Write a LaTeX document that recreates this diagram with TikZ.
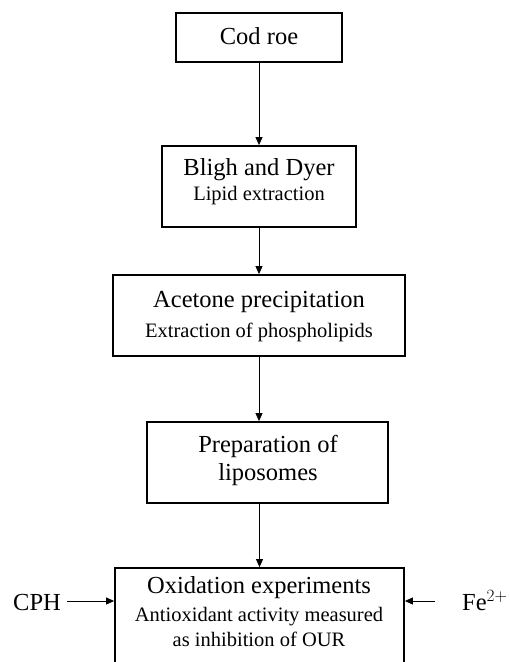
\documentclass[tikz,border=0pt]{standalone}
\usepackage{fontspec}
\setmainfont{Liberation Serif}
\usetikzlibrary{arrows.meta}
\tikzset{
  box/.style={draw, line width=1.8bp, minimum width=#1, inner sep=0pt},
  ttl/.style={anchor=base, inner sep=0pt, font=\fontsize{24.5bp}{28bp}\selectfont},
  sub/.style={anchor=base, inner sep=0pt, font=\fontsize{20.5bp}{24bp}\selectfont},
  flow/.style={line width=0.8bp, -{Triangle[length=8bp,width=7bp]}}
}
\begin{document}
\begin{tikzpicture}[x=1bp,y=-1bp]
\useasboundingbox (0,0) rectangle (510,662);
\clip (0,0) rectangle (510,662);
% boxes
\node[box=166bp, minimum height=49bp] (cod) at (259,37.5) {};
\node[box=194bp, minimum height=81bp] (bligh) at (259,186.5) {};
\node[box=292bp, minimum height=81bp] (acet) at (259,315.5) {};
\node[box=241bp, minimum height=81bp] (prep) at (267.5,462.5) {};
\node[box=289bp, minimum height=144bp] (oxid) at (259.5,640) {};
% texts
\node[ttl] (t1) at (259,45) {Cod roe};
\node[ttl] (t2) at (259,175) {Bligh and Dyer};
\node[sub] (s2) at (259,200) {Lipid extraction};
\node[ttl] (t3) at (259,307) {Acetone precipitation};
\node[sub] (s3) at (259,337) {Extraction of phospholipids};
\node[ttl] (t4) at (268,452) {Preparation of};
\node[ttl] (t4b) at (268,480) {liposomes};
\node[ttl] (t5) at (259,593) {Oxidation experiments};
\node[sub] (s5) at (259,621) {Antioxidant activity measured};
\node[sub] (s5b) at (259,646) {as inhibition of OUR};
\node[ttl, anchor=base west] (cph) at (13,610) {CPH};
\node[ttl, anchor=base west] (fe) at (462,610) {Fe$^{2+}$};
% connectors
\draw[flow] (cod.south) -- (bligh.north);
\draw[flow] (bligh.south) -- (acet.north);
\draw[flow] (acet.south) -- (acet.south |- prep.north);
\draw[flow] (oxid.north |- prep.south) -- (oxid.north);
\coordinate (cphend) at (67,601);
\coordinate (feend) at (435,601);
\draw[flow] (cphend) -- (cphend -| oxid.west);
\draw[flow] (feend) -- (feend -| oxid.east);
\end{tikzpicture}
\end{document}
